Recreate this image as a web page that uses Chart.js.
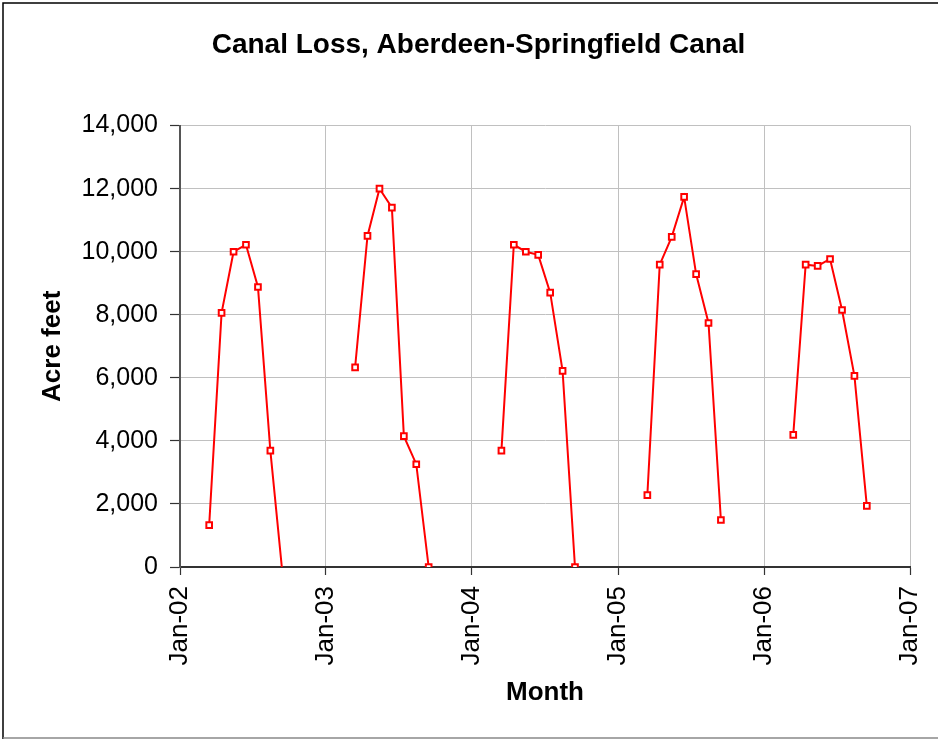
<!DOCTYPE html>
<html>
<head>
<meta charset="utf-8">
<script src="https://cdn.jsdelivr.net/npm/chart.js@4"></script>
<style>
  html, body { margin: 0; padding: 0; background: #fff; }
  #wrap { width: 938px; height: 739px; position: relative; }
</style>
</head>
<body>
<div id="wrap"><canvas id="chart" width="938" height="739"></canvas></div>
<script>
// monthly canal loss, acre feet (Mar..Sep of each year, mid-month)
var seasonMonths = ['Mar', 'Apr', 'May', 'Jun', 'Jul', 'Aug', 'Sep'];
var years = [2002, 2003, 2004, 2005, 2006];
var loss2002 = [1330, 8060, 10000, 10220, 8880, 3690, -300];
var loss2003 = [6330, 10500, 12000, 11400, 4150, 3260, 0];
var loss2004 = [3690, 10220, 10000, 9900, 8700, 6220, 0];
var loss2005 = [2280, 9590, 10470, 11740, 9290, 7740, 1490];
var loss2006 = [4190, 9590, 9550, 9770, 8150, 6060, 1940];
var yearTickLabels = ['Jan-02', 'Jan-03', 'Jan-04', 'Jan-05', 'Jan-06', 'Jan-07'];

var lossByYear = [loss2002, loss2003, loss2004, loss2005, loss2006];
var monthIndex = { Jan: 0, Feb: 1, Mar: 2, Apr: 3, May: 4, Jun: 5, Jul: 6, Aug: 7, Sep: 8, Oct: 9, Nov: 10, Dec: 11 };
var startMs = Date.UTC(2002, 0, 1);
function dayOf(y, m, d) {
    return (Date.UTC(y, m, d) - startMs) / 86400000;
}

var points = [];
years.forEach(function (yr, i) {
    seasonMonths.forEach(function (mName, j) {
        points.push({ x: dayOf(yr, monthIndex[mName], 15), y: lossByYear[i][j] });
    });
    // break the line over winter
    points.push({ x: dayOf(yr, 11, 15), y: null });
});

var FONT = "'Liberation Sans', Arial, Helvetica, sans-serif";

var framePlugin = {
    id: 'frame',
    beforeDraw: function (chart) {
        var ctx = chart.ctx;
        ctx.save();
        ctx.fillStyle = '#ffffff';
        ctx.fillRect(0, 0, chart.width, chart.height);
        ctx.restore();
    },
    afterDraw: function (chart) {
        var ctx = chart.ctx;
        ctx.save();
        ctx.lineWidth = 1.5;
        ctx.strokeStyle = '#000000';
        ctx.beginPath();
        ctx.moveTo(3, chart.height);
        ctx.lineTo(3, 3);
        ctx.lineTo(chart.width, 3);
        ctx.stroke();
        ctx.strokeStyle = '#888888';
        ctx.beginPath();
        ctx.moveTo(3, chart.height - 1);
        ctx.lineTo(chart.width, chart.height - 1);
        ctx.stroke();
        ctx.restore();
    }
};

var cfg = {
    type: 'line',
    data: {
        datasets: [{
            label: 'Canal loss',
            data: points,
            borderColor: '#ff0000',
            borderWidth: 2,
            backgroundColor: '#ffffff',
            pointStyle: 'rect',
            pointRadius: 4,
            pointBorderWidth: 2,
            pointBorderColor: '#ff0000',
            pointBackgroundColor: '#ffffff',
            spanGaps: false,
            tension: 0
        }]
    },
    options: {
        responsive: false,
        animation: false,
        layout: { padding: { left: 22, right: 3, top: 0, bottom: 31 } },
        plugins: {
            legend: { display: false },
            tooltip: { enabled: false },
            title: {
                display: true,
                text: 'Canal Loss, Aberdeen-Springfield Canal',
                color: '#000',
                font: { family: FONT, size: 28, weight: 'bold' },
                padding: { top: 28, bottom: 64 }
            }
        },
        scales: {
            x: {
                type: 'linear',
                min: dayOf(2002, 0, 1),
                max: dayOf(2007, 0, 1),
                afterBuildTicks: function (axis) {
                    axis.ticks = yearTickLabels.map(function (l, i) {
                        return { value: dayOf(2002 + i, 0, 1) };
                    });
                },
                afterFit: function (axis) {
                    axis.height = 141;
                    axis.paddingRight = 28;
                },
                ticks: {
                    autoSkip: false,
                    maxRotation: 90,
                    minRotation: 90,
                    padding: 11,
                    color: '#000',
                    font: { family: FONT, size: 26 },
                    callback: function (v, i) { return yearTickLabels[i]; }
                },
                grid: { color: '#c0c0c0', lineWidth: 1, tickLength: 8, tickColor: '#333', tickWidth: 1.2 },
                border: { color: '#333', width: 2 },
                title: {
                    display: true,
                    text: 'Month',
                    color: '#000',
                    font: { family: FONT, size: 26, weight: 'bold' },
                    padding: { top: 4, bottom: 0 }
                }
            },
            y: {
                min: 0,
                max: 14000,
                ticks: {
                    stepSize: 2000,
                    padding: 12,
                    color: '#000',
                    font: { family: FONT, size: 25 },
                    callback: function (v) { return v.toLocaleString('en-US'); }
                },
                afterFit: function (axis) { axis.width = 158; },
                grid: { color: '#c0c0c0', lineWidth: 1, tickLength: 10, tickColor: '#333', tickWidth: 1.2 },
                border: { color: '#555', width: 2 },
                title: {
                    display: true,
                    text: 'Acre feet',
                    color: '#000',
                    font: { family: FONT, size: 26, weight: 'bold' },
                    padding: { top: 15, bottom: 0 }
                }
            }
        }
    },
    plugins: [framePlugin]
};

var lossChart = new Chart(document.getElementById('chart'), cfg);
</script>
</body>
</html>
